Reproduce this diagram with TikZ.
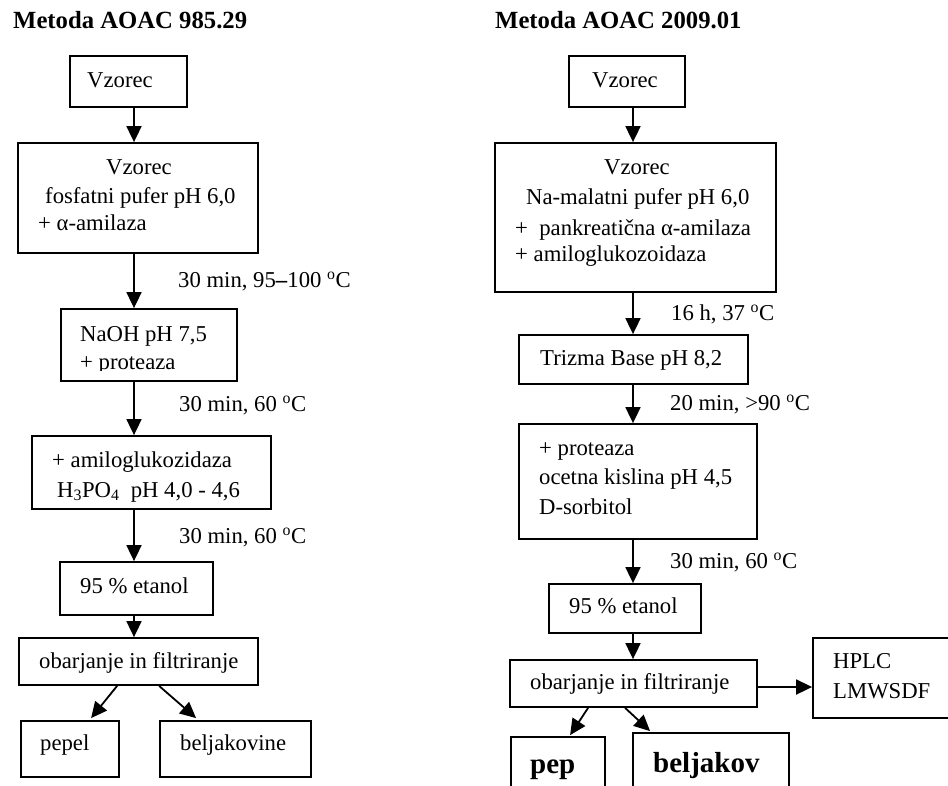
\documentclass[tikz,border=0pt]{standalone}
\usepackage{fontspec}
\setmainfont{Liberation Serif}
\usetikzlibrary{arrows.meta,calc}
\newcommand{\fsz}{\fontsize{22.7}{26}\selectfont}
\newcommand{\dg}{\textsuperscript{o}C}
\begin{document}
\begin{tikzpicture}[x=1pt,y=-1pt,
  box/.style={draw, line width=1.8pt, inner sep=0pt},
  txt/.style={anchor=base west, inner sep=0pt, font=\fsz},
  ttl/.style={anchor=base west, inner sep=0pt, font=\fontsize{24.7}{28}\selectfont\bfseries},
  bigb/.style={anchor=base west, inner sep=0pt, font=\fontsize{29}{33}\selectfont\bfseries},
  arr/.style={line width=1.8pt, -{Triangle[length=16pt,width=15pt]}}]
\useasboundingbox (0,0) rectangle (948,785);
\clip (0,0) rectangle (948,785);
\coordinate (colL) at (134,0);
\coordinate (colR) at (633,0);
\coordinate (hy) at (0,687);
% titles
\node[ttl] (tL) at (13,28) {Metoda AOAC 985.29};
\node[ttl] (tR) at (495,28) {Metoda AOAC 2009.01};
% left column boxes
\node[box, minimum width=117, minimum height=51] (L0) at (128.5,81.5) {};
\node[box, minimum width=240, minimum height=110] (L1) at (138,198) {};
\node[box, minimum width=176, minimum height=72] (L2) at (149,345) {};
\node[box, minimum width=239, minimum height=73] (L3) at (151.5,472.5) {};
\node[box, minimum width=153, minimum height=53] (L4) at (136.5,588.5) {};
\node[box, minimum width=239, minimum height=47] (L5) at (138.5,661.5) {};
\node[box, minimum width=98, minimum height=56] (L6) at (70,749) {};
\node[box, minimum width=151, minimum height=56] (L7) at (235.5,749) {};
% left texts
\node[txt] (L0t) at (87,87) {Vzorec};
\node[txt] (L1a) at (106,174) {Vzorec};
\node[txt] (L1b) at (45,203) {fosfatni pufer pH 6,0};
\node[txt] (L1c) at (38,230) {+ α-amilaza};
\node[txt] (L2a) at (80,341) {NaOH pH 7,5};
\begin{scope}
\clip (0,0) rectangle (948,370.5);
\node[txt] (L2b) at (80,369.5) {+ proteaza};
\end{scope}
\node[txt] (L3a) at (52,467) {+ amiloglukozidaza};
\node[txt] (L3b) at (57,497) {H\textsubscript{3}PO\textsubscript{4}\ \ pH 4,0 - 4,6};
\node[txt] (L4t) at (80,593) {95 \% etanol};
\node[txt] (L5t) at (39,668) {obarjanje in filtriranje};
\node[txt] (L6t) at (40,750) {pepel};
\node[txt] (L7t) at (180,750) {beljakovine};
% left labels
\node[txt] (lb1) at (178,287) {30 min, 95\textbf{--}100 \dg};
\node[txt] (lb2) at (179,411) {30 min, 60 \dg};
\node[txt] (lb3) at (179,543) {30 min, 60 \dg};
% left arrows
\draw[arr] (L0.south -| colL) -- (L1.north -| colL);
\draw[arr] (L1.south -| colL) -- (L2.north -| colL);
\draw[arr] (L2.south -| colL) -- (L3.north -| colL);
\draw[arr] (L3.south -| colL) -- (L4.north -| colL);
\draw[arr] (L4.south -| colL) -- (L5.north -| colL);
\draw[arr] ($(L5.south west)+(99,0)$) -- ($(L6.north west)+(71,-2)$);
\draw[arr] ($(L5.south west)+(141,0)$) -- ($(L7.north west)+(37,-2)$);
% right column boxes
\node[box, minimum width=116, minimum height=51] (R0) at (627,81.5) {};
\node[box, minimum width=281, minimum height=149] (R1) at (635.5,217.5) {};
\node[box, minimum width=229, minimum height=49] (R2) at (633.5,359.5) {};
\node[box, minimum width=238, minimum height=115] (R3) at (638,481.5) {};
\node[box, minimum width=152, minimum height=49] (R4) at (625,608.5) {};
\node[box, minimum width=247, minimum height=47] (R5) at (633.5,683.5) {};
\node[box, minimum width=150, minimum height=80] (R6) at (888,678) {};
\node[box, minimum width=94, minimum height=80] (R7) at (558,777) {};
\node[box, minimum width=156, minimum height=80] (R8) at (711,773) {};
% right texts
\node[txt] (R0t) at (592,87) {Vzorec};
\node[txt] (R1a) at (604,174) {Vzorec};
\node[txt] (R1b) at (526,204) {Na-malatni pufer pH 6,0};
\node[txt] (R1c) at (515,235) {+\ \ pankreatična α-amilaza};
\node[txt] (R1d) at (515,261) {+ amiloglukozoidaza};
\node[txt] (R2t) at (540,365) {Trizma Base pH 8,2};
\node[txt] (R3a) at (539,455) {+ proteaza};
\node[txt] (R3b) at (539,484) {ocetna kislina pH 4,5};
\node[txt] (R3c) at (539,514) {D-sorbitol};
\node[txt] (R4t) at (569,613) {95 \% etanol};
\node[txt] (R5t) at (530,689) {obarjanje in filtriranje};
\node[txt] (R6a) at (833,668) {HPLC};
\node[txt] (R6b) at (833,698) {LMWSDF};
\node[bigb] (R7t) at (530,773) {pep};
\node[bigb] (R8t) at (653,772) {beljakov};
% right labels
\node[txt] (rb1) at (671,320) {16 h, 37 \dg};
\node[txt] (rb2) at (670,410) {20 min, >90 \dg};
\node[txt] (rb3) at (670,568) {30 min, 60 \dg};
% right arrows
\draw[arr] (R0.south -| colR) -- (R1.north -| colR);
\draw[arr] (R1.south -| colR) -- (R2.north -| colR);
\draw[arr] (R2.south -| colR) -- (R3.north -| colR);
\draw[arr] (R3.south -| colR) -- (R4.north -| colR);
\draw[arr] (R4.south -| colR) -- (R5.north -| colR);
\draw[arr] (R5.east |- hy) -- (R6.west |- hy);
\draw[arr] ($(R5.south west)+(79,0)$) -- ($(R7.north west)+(60,-1)$);
\draw[arr] ($(R5.south west)+(116,0)$) -- ($(R8.north west)+(18,-1)$);
\end{tikzpicture}
\end{document}
